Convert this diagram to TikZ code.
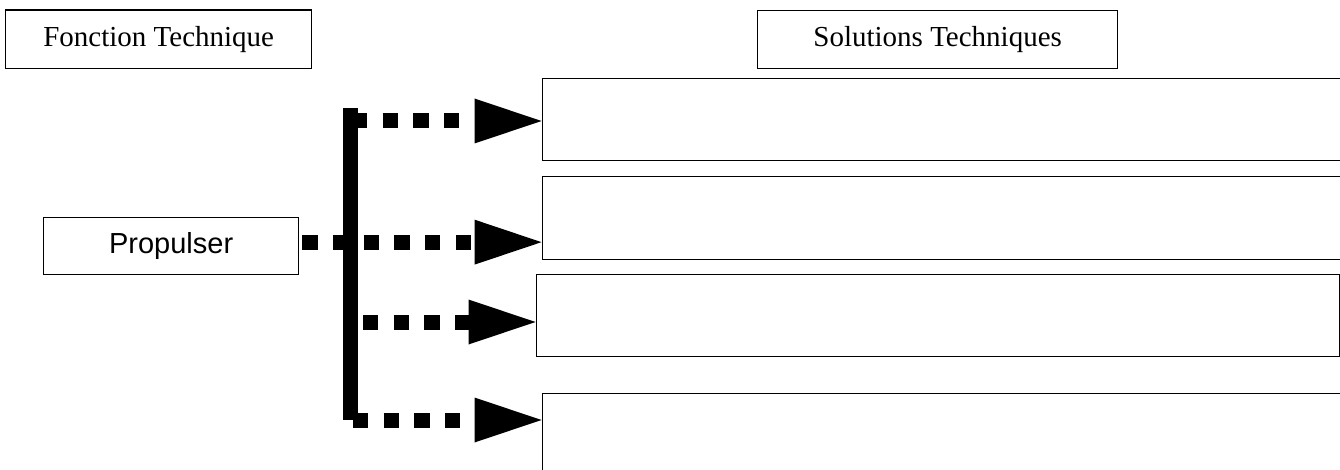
\documentclass[tikz,border=0pt]{standalone}
\usepackage{fontspec}
\setmainfont{Liberation Serif}
\newfontfamily\arialf{Liberation Sans}
\usetikzlibrary{arrows.meta}
\begin{document}
\begin{tikzpicture}[x=1pt,y=-1pt,
  titlebox/.style={draw=black, line width=1.3pt, inner sep=0pt, anchor=north west, font=\fontsize{29}{34}\selectfont},
  solbox/.style={draw=black, line width=1.3pt, inner sep=0pt, anchor=north west},
  flow/.style={line width=15pt, dash pattern=on 15.3pt off 15.4pt, -{Triangle[length=67pt,width=45pt,line width=0pt]}},
  bar/.style={line width=15pt}]
\useasboundingbox (0,0) rectangle (1340,470);
\clip (0,0) rectangle (1340,470);
% title boxes
\node[titlebox, minimum width=306pt, minimum height=58.5pt] (ft) at (5,9.5) {Fonction Technique};
\node[titlebox, minimum width=360pt, minimum height=58pt] (st) at (757,10) {Solutions Techniques};
\node[titlebox, font=\arialf\fontsize{29}{34}\selectfont, minimum width=255pt, minimum height=57pt] (P) at (43,217) {Propulser};
% solution boxes
\node[solbox, minimum width=820pt, minimum height=82pt] (s1) at (541.5,78) {};
\node[solbox, minimum width=820pt, minimum height=83pt] (s2) at (541.5,176) {};
\node[solbox, minimum width=803pt, minimum height=82pt] (s3) at (535.5,274) {};
\node[solbox, minimum width=820pt, minimum height=120pt] (s4) at (541.5,393) {};
% bracket bar
\coordinate (bt) at (350.5,108);
\coordinate (bb) at (350.5,420);
\draw[bar] (bt) -- (bb);
% arrows
\coordinate (a1) at (352,121);
\coordinate (a3) at (363,322);
\coordinate (a4) at (353,420);
\draw[flow] (a1) -- (a1 -| s1.west);
\draw[flow, shorten >=3pt] ([shift={(3,-4)}]P.east) -- ([shift={(3,-4)}]P.east -| s2.west);
\draw[flow] (a3) -- (a3 -| s3.west);
\draw[flow] (a4) -- (a4 -| s4.west);
\end{tikzpicture}
\end{document}
